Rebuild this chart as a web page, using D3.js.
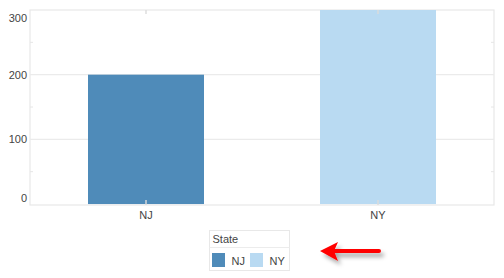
<!DOCTYPE html>
<html>
<head>
<meta charset="utf-8">
<script src="https://cdn.jsdelivr.net/npm/d3@7"></script>
<style>
  html, body { margin: 0; padding: 0; background: #fff; }
  text { font-family: "Liberation Sans", Arial, sans-serif; }
</style>
</head>
<body>
<div id="wrapper"></div>
<script>
const states = ["NJ", "NY"];
const counts = [200, 300];
const stateColors = ["#4f8bb9", "#b9daf2"];
const yTicks = [0, 100, 200, 300];
const yMinorTicks = [50, 150, 250];

function drawChart() {
  const dataset = states.map((s, i) => ({ state: s, count: counts[i] }));
  const xAccessor = d => d.state;
  const yAccessor = d => d.count;

  let dimensions = {
    width: 504,
    height: 278,
    margin: { top: 10, right: 10, bottom: 73, left: 30 },
  };
  dimensions.boundedWidth = dimensions.width - dimensions.margin.left - dimensions.margin.right;
  dimensions.boundedHeight = dimensions.height - dimensions.margin.top - dimensions.margin.bottom;

  const wrapper = d3.select("#wrapper")
    .append("svg")
    .attr("width", dimensions.width)
    .attr("height", dimensions.height);

  const bounds = wrapper.append("g")
    .attr("transform", `translate(${dimensions.margin.left},${dimensions.margin.top})`);

  const xScaler = d3.scaleBand()
    .domain(states)
    .range([0, dimensions.boundedWidth])
    .paddingInner(0.5)
    .paddingOuter(0.25);

  const yScaler = d3.scaleLinear()
    .domain([-1.5, 300])
    .range([dimensions.boundedHeight, 0]);

  const colorScaler = d3.scaleOrdinal().domain(states).range(stateColors);

  // panel border
  bounds.append("rect")
    .attr("width", dimensions.boundedWidth)
    .attr("height", dimensions.boundedHeight)
    .attr("fill", "#fff")
    .attr("stroke", "#e8e8e8")
    .attr("stroke-width", 1.2);

  // grid lines
  bounds.append("g").selectAll("line")
    .data(yTicks.filter(t => t > 0 && t < 300))
    .join("line")
    .attr("x1", 0)
    .attr("x2", dimensions.boundedWidth)
    .attr("y1", d => yScaler(d))
    .attr("y2", d => yScaler(d))
    .attr("stroke", "#ebebeb")
    .attr("stroke-width", 1.2);

  // minor ticks on both panel edges
  const minor = bounds.append("g");
  minor.selectAll("line.l")
    .data(yMinorTicks)
    .join("line")
    .attr("class", "l")
    .attr("x1", 0).attr("x2", 3)
    .attr("y1", d => yScaler(d)).attr("y2", d => yScaler(d))
    .attr("stroke", "#e6e6e6");
  minor.selectAll("line.r")
    .data(yMinorTicks)
    .join("line")
    .attr("class", "r")
    .attr("x1", dimensions.boundedWidth - 3).attr("x2", dimensions.boundedWidth)
    .attr("y1", d => yScaler(d)).attr("y2", d => yScaler(d))
    .attr("stroke", "#e6e6e6");

  // bars
  bounds.append("g").selectAll("rect")
    .data(dataset)
    .join("rect")
    .attr("x", d => xScaler(xAccessor(d)))
    .attr("y", d => yScaler(yAccessor(d)))
    .attr("width", xScaler.bandwidth())
    .attr("height", d => yScaler(0) - yScaler(yAccessor(d)))
    .attr("fill", d => colorScaler(xAccessor(d)));

  // category ticks at top and bottom of panel
  const catTicks = bounds.append("g");
  states.forEach(s => {
    const cx = xScaler(s) + xScaler.bandwidth() / 2;
    catTicks.append("line")
      .attr("x1", cx).attr("x2", cx).attr("y1", 0).attr("y2", 4)
      .attr("stroke", "#dcdcdc").attr("stroke-width", 2).attr("opacity", 0.7);
    catTicks.append("line")
      .attr("x1", cx).attr("x2", cx)
      .attr("y1", dimensions.boundedHeight - 5).attr("y2", dimensions.boundedHeight)
      .attr("stroke", "#dcdcdc").attr("stroke-width", 2).attr("opacity", 0.7);
  });

  // y axis labels (end labels nudged inside the panel)
  const yAxisGen = d3.axisLeft(yScaler).tickValues(yTicks).tickSize(0).tickPadding(3);
  const axisY = bounds.append("g").call(yAxisGen);
  axisY.select(".domain").remove();
  axisY.selectAll("text")
    .attr("fill", "#444")
    .attr("font-size", "11px")
    .attr("font-family", "'Liberation Sans', Arial, sans-serif")
    .attr("dy", d => d === 0 ? "-0.2em" : d === 300 ? "1.05em" : "0.32em");

  // x axis labels
  const xAxisGen = d3.axisBottom(xScaler).tickSize(0).tickPadding(6);
  const axisX = bounds.append("g")
    .attr("transform", `translate(0,${dimensions.boundedHeight})`)
    .call(xAxisGen);
  axisX.select(".domain").remove();
  axisX.selectAll("text")
    .attr("fill", "#444")
    .attr("font-size", "11px")
    .attr("font-family", "'Liberation Sans', Arial, sans-serif");

  // legend
  const legend = wrapper.append("g").attr("transform", "translate(209.5,230.5)");
  legend.append("rect")
    .attr("width", 80).attr("height", 40)
    .attr("fill", "#fff").attr("stroke", "#e8e8e8");
  legend.append("line")
    .attr("x1", 0).attr("x2", 80).attr("y1", 17).attr("y2", 17)
    .attr("stroke", "#ececec");
  legend.append("text")
    .attr("x", 3).attr("y", 12.5)
    .attr("font-size", "11px").attr("fill", "#444")
    .text("State");
  const items = legend.selectAll("g.item")
    .data(states)
    .join("g")
    .attr("class", "item")
    .attr("transform", (d, i) => `translate(${2.5 + i * 38},22.5)`);
  items.append("rect")
    .attr("width", 13).attr("height", 14)
    .attr("fill", d => colorScaler(d));
  items.append("text")
    .attr("x", 19.5).attr("y", 11.5)
    .attr("font-size", "11px").attr("fill", "#444")
    .text(d => d);

  // red arrow pointing at the legend
  const defs = wrapper.append("defs");
  const filter = defs.append("filter").attr("id", "shadow")
    .attr("x", "-20%").attr("y", "-50%").attr("width", "150%").attr("height", "250%");
  filter.append("feDropShadow")
    .attr("dx", 3).attr("dy", 4).attr("stdDeviation", 2)
    .attr("flood-color", "#000").attr("flood-opacity", 0.35);
  const arrow = wrapper.append("g").attr("filter", "url(#shadow)");
  arrow.append("line")
    .attr("x1", 334).attr("x2", 379).attr("y1", 251).attr("y2", 251)
    .attr("stroke", "#f00").attr("stroke-width", 4).attr("stroke-linecap", "round");
  arrow.append("path")
    .attr("d", "M320,251 L338,242 L334,251 L338,261 Z")
    .attr("fill", "#f00");
}
drawChart();
</script>
</body>
</html>
